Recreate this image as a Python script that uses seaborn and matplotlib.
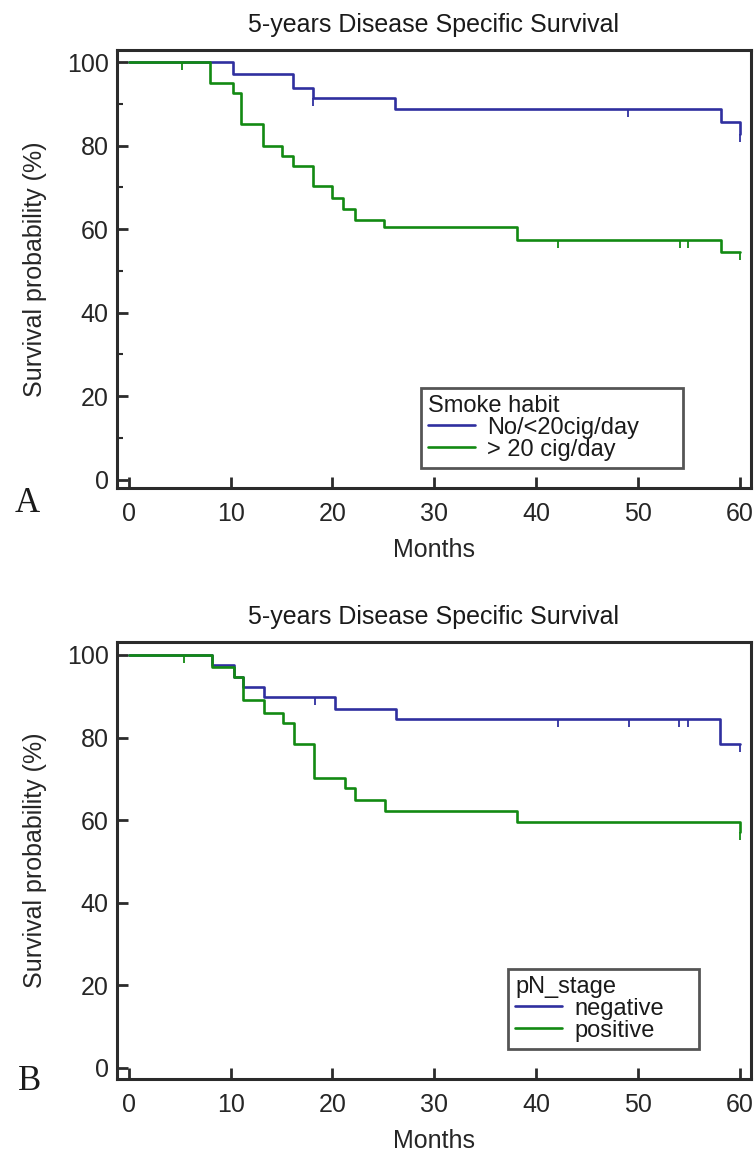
import numpy as np
import matplotlib as mpl
mpl.use('Agg')
import matplotlib.pyplot as plt
import seaborn as sns

# Panel A - smoke habit (months, survival %)
smoke_low_t = [0, 10.2, 16.1, 18.1, 26.1, 58.1, 60.0]
smoke_low_s = [100, 97.1, 93.9, 91.5, 88.8, 85.7, 82.8]
smoke_low_cens = [18.1, 49.0, 60.0]
smoke_high_t = [0, 8.0, 10.2, 11.0, 13.2, 15.0, 16.1, 18.1, 20.0, 21.0, 22.2, 25.1, 38.1, 58.1, 60.0]
smoke_high_s = [100, 94.9, 92.5, 85.2, 79.9, 77.6, 75.1, 70.2, 67.5, 64.8, 62.2, 60.4, 57.4, 54.6, 54.6]
smoke_high_cens = [5.2, 42.1, 54.1, 54.9, 60.0]

# Panel B - pN stage
pn_neg_t = [0, 8.2, 10.3, 11.2, 13.3, 20.2, 26.2, 58.0, 60.0]
pn_neg_s = [100, 97.5, 94.6, 92.3, 89.8, 86.9, 84.5, 78.4, 78.4]
pn_neg_cens = [18.3, 42.1, 49.1, 54.0, 54.9, 60.0]
pn_pos_t = [0, 8.2, 10.3, 11.2, 13.3, 15.1, 16.2, 18.2, 21.2, 22.2, 25.2, 38.1, 60.0]
pn_pos_s = [100, 97.0, 94.6, 89.1, 86.0, 83.6, 78.4, 70.3, 67.7, 64.9, 62.1, 59.5, 57.0]
pn_pos_cens = [5.4, 60.0]

x_ticks = [0, 10, 20, 30, 40, 50, 60]
y_ticks = [0, 20, 40, 60, 80, 100]

BLUE = '#2f2f9f'
GREEN = '#128a12'
SPINE = '#2b2b2b'
FS = 18

sns.set_style('ticks')
plt.rcParams['font.family'] = ['Liberation Sans', 'DejaVu Sans']
plt.rcParams['text.color'] = '#1a1a1a'


def step_at(ts, ss, t):
    i = np.searchsorted(ts, t, side='right') - 1
    return ss[max(i, 0)]


def km_panel(ax, series, legend_title, ylim, minor, legend_box):
    for ts, ss, cens, color, label in series:
        sns.lineplot(x=ts, y=ss, ax=ax, drawstyle='steps-post', color=color,
                     linewidth=1.9, estimator=None, label=label)
        cy = [step_at(ts, ss, c) for c in cens]
        ax.plot(cens, cy, linestyle='none', marker=3, markersize=6,
                markeredgewidth=1.3, color=color)
    ax.set_xlim(-1.15, 61.05)
    ax.set_ylim(*ylim)
    ax.set_xticks(x_ticks)
    ax.set_yticks(y_ticks)
    if minor:
        ax.set_yticks([10, 30, 50, 70, 90], minor=True)
    ax.tick_params(direction='in', length=8, width=2, color=SPINE, labelsize=FS)
    ax.tick_params(axis='x', pad=10)
    ax.tick_params(axis='y', pad=6)
    ax.tick_params(which='minor', direction='in', length=4, width=1.5, color=SPINE)
    for sp in ax.spines.values():
        sp.set_linewidth(2.2)
        sp.set_color(SPINE)
    ax.set_title('5-years Disease Specific Survival', fontsize=FS, pad=13)
    ax.set_xlabel('Months', fontsize=FS, labelpad=9)
    ax.set_ylabel('Survival probability (%)', fontsize=FS, labelpad=14)

    leg = ax.legend(title=legend_title, loc='lower left', bbox_to_anchor=legend_box,
                    mode='expand', fontsize=17, title_fontsize=17, frameon=True,
                    fancybox=False, alignment='left', handlelength=2.0,
                    handletextpad=0.5, borderpad=0.3, labelspacing=0.0,
                    borderaxespad=0)
    leg.get_frame().set_edgecolor(SPINE)
    leg.get_frame().set_linewidth(2.0)
    return ax


fig = plt.figure(figsize=(7.55, 11.56), dpi=100)
ax_a = fig.add_axes([0.155, 0.5779, 0.8393, 0.3789])
ax_b = fig.add_axes([0.155, 0.0666, 0.8393, 0.3783])

km_panel(ax_a, [(smoke_low_t, smoke_low_s, smoke_low_cens, BLUE, 'No/<20cig/day'),
                (smoke_high_t, smoke_high_s, smoke_high_cens, GREEN, '> 20 cig/day')],
         'Smoke habit', (-2.0, 102.9), True, (0.4797, 0.046, 0.4134, 0.16))
km_panel(ax_b, [(pn_neg_t, pn_neg_s, pn_neg_cens, BLUE, 'negative'),
                (pn_pos_t, pn_pos_s, pn_pos_cens, GREEN, 'positive')],
         'pN_stage', (-2.7, 103.2), False, (0.617, 0.069, 0.3014, 0.16))

fig.text(27 / 755, 1 - 503 / 1156, 'A', fontsize=25, family='Liberation Serif',
         ha='center', va='center')
fig.text(30 / 755, 1 - 1082 / 1156, 'B', fontsize=25, family='Liberation Serif',
         ha='center', va='center')

fig.savefig('out.png', dpi=100)
plt.close(fig)
